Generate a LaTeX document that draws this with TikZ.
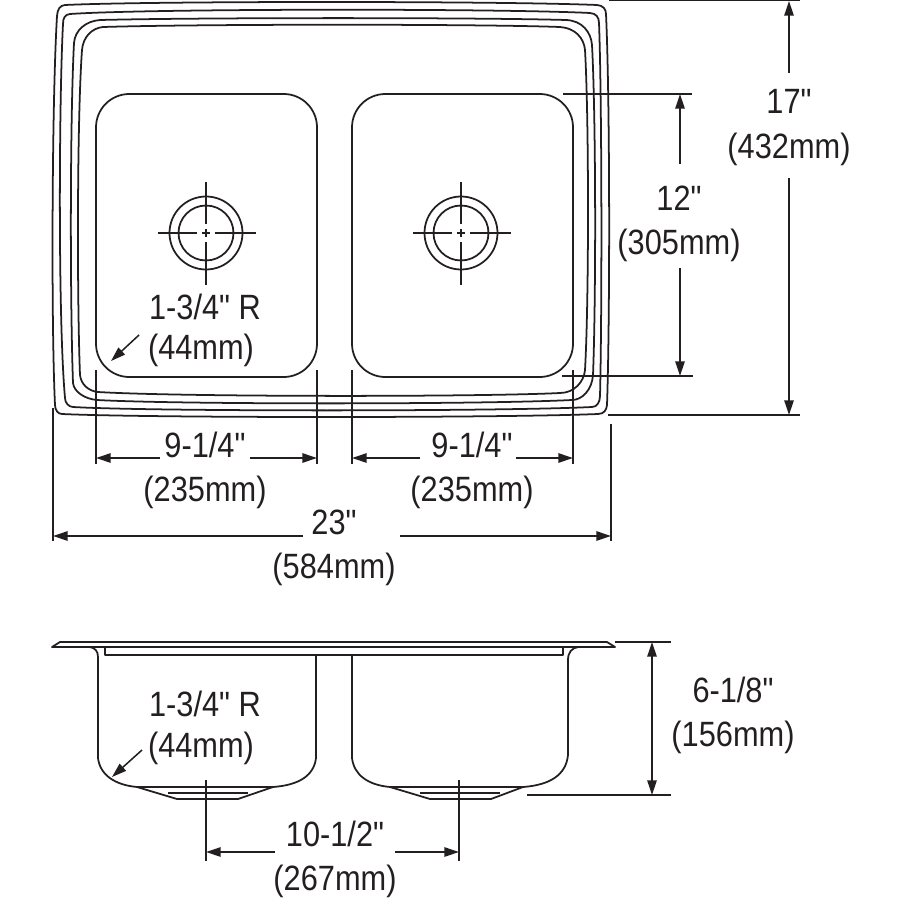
\documentclass[tikz,border=0pt]{standalone}
\usepackage{fontspec}
\setmainfont[FakeStretch=0.875,Ligatures=TeXOff]{Liberation Sans}
\usetikzlibrary{arrows.meta}
\definecolor{inkline}{HTML}{231F20}
\tikzset{
  sinkline/.style={draw=inkline,line width=1.5pt,line join=round},
  extline/.style={draw=inkline,line width=1.3pt},
  dimarrow/.style={draw=inkline,line width=1.3pt,-{Triangle[length=12.5pt,width=8pt]}},
  dimtext/.style={text=inkline,inner sep=0pt,font=\fontsize{30}{35}\selectfont}
}
\begin{document}
\begin{tikzpicture}[x=0.03cm,y=-0.03cm]
    \useasboundingbox (0,0) rectangle (900,900);
    % rim, top view
    \draw[sinkline] (65,5) .. controls (150,1) and (500,1) .. (597,5) .. controls (603,5.5) and (606,9) .. (606,14) .. controls (610,100) and (610,320) .. (607,405) .. controls (606.5,410) and (604,414) .. (598,414) .. controls (500,418) and (150,418) .. (62,414) .. controls (58,414) and (55,410) .. (55,405) .. controls (51,320) and (52,100) .. (57,16) .. controls (57.5,9) and (60,5.5) .. (65,5) -- cycle;
    \draw[sinkline] (70,14) .. controls (150,8.5) and (500,8.5) .. (590,13) .. controls (596,13.5) and (599,17) .. (599,23) .. controls (602,100) and (602,320) .. (600,396) .. controls (600,402) and (597,407) .. (592,407) .. controls (500,411.5) and (150,411.5) .. (73,407) .. controls (69,407) and (65,403) .. (65,398) .. controls (58,320) and (59,100) .. (63,24) .. controls (63,18) and (65,14.5) .. (70,14) -- cycle;
    \draw[sinkline] (100,20) .. controls (200,17.5) and (480,17.5) .. (566,20) .. controls (582,20.5) and (591,32) .. (592,45) .. controls (596,120) and (596,300) .. (593,375) .. controls (592,390) and (582,400) .. (572,400) .. controls (480,404.5) and (180,404.5) .. (97,400) .. controls (85,399) and (74,392) .. (73,383) .. controls (70,300) and (70,120) .. (74,43) .. controls (75,30) and (86,21) .. (100,20) -- cycle;
    \draw[sinkline] (103,27) .. controls (200,24) and (480,24) .. (560,27) .. controls (575,28) and (584,38) .. (585,50) .. controls (589,120) and (589,300) .. (585,370) .. controls (584,382) and (574,393) .. (560,393) .. controls (480,397) and (180,397) .. (98,392) .. controls (88,391) and (81,384) .. (80,375) .. controls (77,300) and (77,120) .. (82,50) .. controls (83,37) and (92,28) .. (103,27) -- cycle;
    % basins, top view
    \node[sinkline,draw,minimum width=221*0.03cm,minimum height=283*0.03cm,rounded corners=1cm,inner sep=0pt] (LeftBasin) at (206.5,235.5) {};
    \node[sinkline,draw,minimum width=221*0.03cm,minimum height=283*0.03cm,rounded corners=1cm,inner sep=0pt] (RightBasin) at (462.5,235.5) {};
    % drains
    \foreach \drain/\cx in {LeftDrain/206,RightDrain/461}{
      \node[sinkline,draw,circle,minimum size=73*0.03cm,inner sep=0pt] (\drain) at (\cx,233) {};
      \node[sinkline,draw,circle,minimum size=55*0.03cm,inner sep=0pt] (\drain Inner) at (\cx,233) {};
      \draw[extline] (\cx-48,233) -- (\cx-9,233) (\cx-4,233) -- (\cx+4,233) (\cx+9,233) -- (\cx+50,233);
      \draw[extline] (\cx,182) -- (\cx,224) (\cx,229) -- (\cx,237) (\cx,242) -- (\cx,285);
    }
    %
    % 17 inch
    \coordinate (TopExtA) at (609,0);
    \coordinate (TopExtB) at (800,0);
    \coordinate (BotExtA) at (608,415);
    \coordinate (BotExtB) at (800,415);
    \draw[extline] (TopExtA) -- (TopExtB);
    \draw[extline] (BotExtA) -- (BotExtB);
    \coordinate (GapSeventeenA) at (789,73);
    \coordinate (GapSeventeenB) at (789,178);
    \draw[dimarrow] (GapSeventeenA) -- (789,1);
    \draw[dimarrow] (GapSeventeenB) -- (789,415);
    \node[dimtext] (Seventeen) at (789,101) {17"};
    \node[dimtext] (SeventeenMm) at (789,149) {(432mm)};
    %
    % 12 inch
    \draw[extline] (563,94) -- (692,94);
    \draw[extline] (562,376) -- (693,376);
    \coordinate (GapTwelveA) at (680,164);
    \coordinate (GapTwelveB) at (680,268);
    \draw[dimarrow] (GapTwelveA) -- (680,94);
    \draw[dimarrow] (GapTwelveB) -- (680,376);
    \node[dimtext] (Twelve) at (679,198) {12"};
    \node[dimtext] (TwelveMm) at (679,245) {(305mm)};
    %
    % left basin width
    \draw[extline] (96,370) -- (96,464);
    \draw[extline] (317,370) -- (317,464);
    \coordinate (GapLeftA) at (160,458);
    \coordinate (GapLeftB) at (250,458);
    \draw[dimarrow] (GapLeftA) -- (96,458);
    \draw[dimarrow] (GapLeftB) -- (317,458);
    \node[dimtext] (LeftWidth) at (205,445) {9-1/4"};
    \node[dimtext] (LeftWidthMm) at (205,492) {(235mm)};
    %
    % right basin width
    \draw[extline] (352,370) -- (352,464);
    \draw[extline] (573,370) -- (573,464);
    \coordinate (GapRightA) at (420,458);
    \coordinate (GapRightB) at (516,458);
    \draw[dimarrow] (GapRightA) -- (352,458);
    \draw[dimarrow] (GapRightB) -- (573,458);
    \node[dimtext] (RightWidth) at (472,445) {9-1/4"};
    \node[dimtext] (RightWidthMm) at (472,492) {(235mm)};
    %
    % overall width
    \draw[extline] (53,408) -- (53,541);
    \draw[extline] (611,424) -- (611,541);
    \coordinate (GapAllA) at (303,536);
    \coordinate (GapAllB) at (400,536);
    \draw[dimarrow] (GapAllA) -- (53,536);
    \draw[dimarrow] (GapAllB) -- (611,536);
    \node[dimtext] (AllWidth) at (334,522) {23"};
    \node[dimtext] (AllWidthMm) at (334,569) {(584mm)};
    %
    % corner radius, top view
    \coordinate (RadTopA) at (139,335);
    \coordinate (RadTopB) at (111,361);
    \draw[dimarrow] (RadTopA) -- (RadTopB);
    \node[dimtext] (RadTop) at (205,307) {1-3/4" R};
    \node[dimtext] (RadTopMm) at (201,350) {(44mm)};
    %
    % side view
    \draw[sinkline] (60,642) -- (607,642) -- (615,647) -- (52,647) -- cycle;
    \draw[sinkline] (105,647) -- (105,655) -- (563,655) -- (563,647);
    % left bowl
    \draw[sinkline] (90,647) .. controls (95,648) and (98,651) .. (98,657) -- (98,758) .. controls (100,775) and (115,785) .. (137,787) -- (177,799) -- (238,799) -- (273,787) .. controls (300,785) and (314,775) .. (316,758) -- (316,655);
    \draw[sinkline] (137,787) -- (273,787);
    \draw[sinkline] (168,793) -- (248,793);
    % right bowl
    \draw[sinkline] (352,655) -- (352,758) .. controls (354,775) and (368,785) .. (390,787) -- (430,799) -- (491,799) -- (523,787) .. controls (550,785) and (566,775) .. (568,755) -- (568,660) .. controls (568,652) and (572,648) .. (578,647);
    \draw[sinkline] (390,787) -- (523,787);
    \draw[sinkline] (420,793) -- (500,793);
    %
    % depth
    \draw[extline] (615,642) -- (671,642);
    \draw[extline] (527,795) -- (671,795);
    \coordinate (DepthA) at (652,642);
    \coordinate (DepthB) at (652,795);
    \draw[dimarrow,{Triangle[length=12.5pt,width=8pt]}-{Triangle[length=12.5pt,width=8pt]}] (DepthA) -- (DepthB);
    \node[dimtext] (Depth) at (733,690) {6-1/8"};
    \node[dimtext] (DepthMm) at (733,737) {(156mm)};
    %
    % drain spacing
    \draw[extline] (206,780) -- (206,861);
    \draw[extline] (459,780) -- (459,861);
    \coordinate (GapDrainA) at (275,852);
    \coordinate (GapDrainB) at (395,852);
    \draw[dimarrow] (GapDrainA) -- (206,852);
    \draw[dimarrow] (GapDrainB) -- (459,852);
    \node[dimtext] (DrainGap) at (335,834) {10-1/2"};
    \node[dimtext] (DrainGapMm) at (335,881) {(267mm)};
    %
    % corner radius, side view
    \coordinate (RadSideA) at (142,750);
    \coordinate (RadSideB) at (112,777);
    \draw[dimarrow] (RadSideA) -- (RadSideB);
    \node[dimtext] (RadSide) at (205,704) {1-3/4" R};
    \node[dimtext] (RadSideMm) at (201,748) {(44mm)};
\end{tikzpicture}
\end{document}
